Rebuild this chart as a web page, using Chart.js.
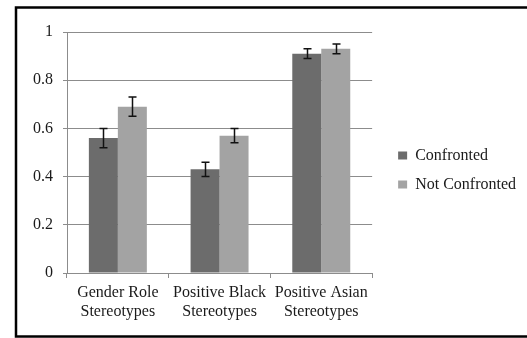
<!DOCTYPE html>
<html>
<head>
<meta charset="utf-8">
<script src="https://cdn.jsdelivr.net/npm/chart.js@4"></script>
<style>
html,body{margin:0;padding:0;background:#fff;}
#wrap{position:relative;width:527px;height:338px;}
</style>
</head>
<body>
<div id="wrap"><canvas id="c" width="527" height="338"></canvas></div>
<script>
const categories = [["Gender Role","Stereotypes"],["Positive Black","Stereotypes"],["Positive Asian","Stereotypes"]];
const seriesNames = ["Confronted","Not Confronted"];
const confronted = [0.56, 0.43, 0.91];
const confrontedErr = [0.04, 0.03, 0.02];
const notConfronted = [0.69, 0.57, 0.93];
const notConfrontedErr = [0.04, 0.03, 0.02];
const yTicks = ["0","0.2","0.4","0.6","0.8","1"];

const FONT = "'Liberation Serif','Times New Roman',serif";
const GRID = '#8c8c8c';

const frame = {
  id: 'frame',
  beforeDraw(chart){
    const ctx = chart.ctx;
    ctx.save();
    ctx.fillStyle = '#fff';
    ctx.fillRect(0,0,chart.width,chart.height);
    ctx.strokeStyle = '#000';
    ctx.lineWidth = 2.5;
    ctx.strokeRect(16, 7.5, 600, 329);
    ctx.restore();
  }
};

const legendShift = {
  id: 'legendShift',
  afterLayout(chart){
    const lg = chart.legend;
    if (lg) { lg.top -= 15; lg.bottom -= 15; }
  }
};

const errorBars = {
  id: 'errorBars',
  afterDatasetsDraw(chart){
    const ctx = chart.ctx;
    const ys = chart.scales.y;
    ctx.save();
    ctx.strokeStyle = '#111';
    ctx.lineWidth = 1.5;
    chart.data.datasets.forEach((ds, i) => {
      const meta = chart.getDatasetMeta(i);
      meta.data.forEach((bar, j) => {
        const v = ds.data[j], e = ds.errors[j];
        const x = Math.round(bar.x) + 0.5;
        const yt = ys.getPixelForValue(v + e);
        const yb = ys.getPixelForValue(v - e);
        ctx.beginPath();
        ctx.moveTo(x, yt); ctx.lineTo(x, yb);
        ctx.moveTo(x - 4, yt); ctx.lineTo(x + 4, yt);
        ctx.moveTo(x - 4, yb); ctx.lineTo(x + 4, yb);
        ctx.stroke();
      });
    });
    ctx.restore();
  }
};

new Chart(document.getElementById('c'), {
  type: 'bar',
  data: {
    labels: categories,
    datasets: [
      {label: seriesNames[0], data: confronted, errors: confrontedErr, backgroundColor: '#6c6c6c', borderWidth: 0},
      {label: seriesNames[1], data: notConfronted, errors: notConfrontedErr, backgroundColor: '#a3a3a3', borderWidth: 0}
    ]
  },
  options: {
    responsive: false,
    animation: false,
    devicePixelRatio: 1,
    categoryPercentage: 0.57,
    barPercentage: 1.0,
    layout: {padding: {top: 32, bottom: 0, left: 0, right: 1}},
    plugins: {
      tooltip: {enabled: false},
      legend: {
        position: 'right',
        maxWidth: 200,
        labels: {
          boxWidth: 9, boxHeight: 8, padding: 13,
          color: '#1a1a1a',
          font: {family: FONT, size: 16}
        }
      }
    },
    scales: {
      x: {
        grid: {display: true, drawOnChartArea: false, drawTicks: true, tickLength: 5, color: GRID, offset: true},
        border: {display: true, color: GRID, width: 1},
        ticks: {color: '#1a1a1a', font: {family: FONT, size: 16}, padding: 5, maxRotation: 0, autoSkip: false},
        afterFit(s){ s.height = 65; }
      },
      y: {
        min: 0, max: 1,
        grid: {color: GRID, tickLength: 4, lineWidth: 1},
        border: {display: true, color: GRID, width: 1},
        ticks: {stepSize: 0.2, color: '#1a1a1a', font: {family: FONT, size: 16}, padding: 10,
          callback: (v, i) => yTicks[i]},
        afterFit(s){ s.width = 67; }
      },
      yPad: {
        position: 'right', display: true,
        grid: {display: false, drawTicks: false},
        border: {display: false},
        ticks: {display: false},
        afterFit(s){ s.width = 13; }
      }
    }
  },
  plugins: [frame, legendShift, errorBars]
});
</script>
</body>
</html>
